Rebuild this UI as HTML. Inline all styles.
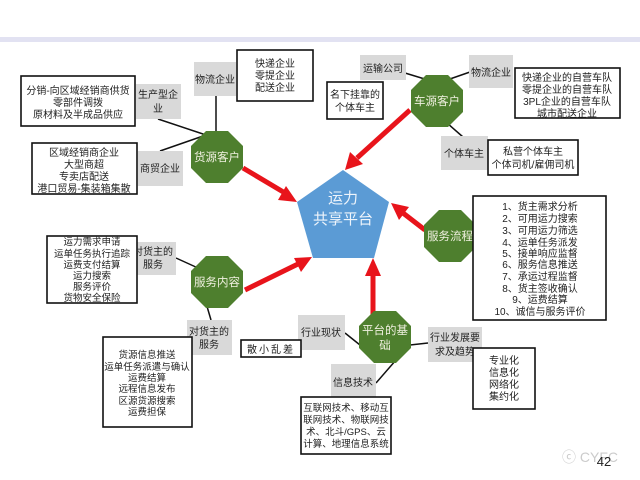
<!DOCTYPE html>
<html><head><meta charset="utf-8"><style>
body{margin:0;background:#fff}
svg{display:block}
text{font-family:"Liberation Sans","Noto Sans CJK SC",sans-serif;font-size:10px;fill:#222;text-anchor:middle}
.s{font-size:9.5px}
.g{fill:#d9d9d9}
.b{fill:#fff;stroke:#111;stroke-width:1.6}
.o{fill:#4e7f2e}
.ot{fill:#f0f0e0;font-size:11.5px}
.l{stroke:#111;stroke-width:1.5}
.a{stroke:#e8141b;stroke-width:5}
.h{fill:#e8141b}
</style></head><body>
<svg width="640" height="480" viewBox="0 0 640 480">
<rect x="0" y="37" width="640" height="5" fill="#e2e2f2"/>
<line class="l" x1="158" y1="119" x2="206" y2="135"/>
<line class="l" x1="160" y1="151" x2="206" y2="135"/>
<line class="l" x1="216" y1="95" x2="216" y2="135"/>
<line class="l" x1="405" y1="73" x2="428" y2="80"/>
<line class="l" x1="470" y1="72" x2="447" y2="80"/>
<line class="l" x1="447" y1="123" x2="463" y2="137"/>
<line class="l" x1="176" y1="258" x2="198" y2="268"/>
<line class="l" x1="206" y1="303" x2="211" y2="320"/>
<line class="l" x1="345" y1="333" x2="360" y2="345"/>
<line class="l" x1="410" y1="345" x2="428" y2="343"/>
<line class="l" x1="376" y1="383" x2="396" y2="360"/>
<polygon points="343,170 389,202 374,258 313,258 297,202" fill="#5b9bd5"/>
<text x="343" y="203" style="font-size:15px;fill:#eef4fb">运力</text>
<text x="343" y="224" style="font-size:15px;fill:#eef4fb">共享平台</text>
<line class="a" x1="243" y1="168" x2="285" y2="193"/>
<polygon class="h" points="297,202 278,200 286,186"/>
<line class="a" x1="410" y1="110" x2="357" y2="158"/>
<polygon class="h" points="345,170 350,152 363,164"/>
<line class="a" x1="425" y1="230" x2="403" y2="213"/>
<polygon class="h" points="391,203 409,207 399,220"/>
<line class="a" x1="245" y1="290" x2="298" y2="264"/>
<polygon class="h" points="312,257 301,272 294,258"/>
<line class="a" x1="373" y1="318" x2="373" y2="275"/>
<polygon class="h" points="373,258 381,276 365,276"/>
<g class="o">
<polygon transform="translate(217,157)" points="26,11 11,26 -11,26 -26,11 -26,-11 -11,-26 11,-26 26,-11"/>
<polygon transform="translate(437,101)" points="26,11 11,26 -11,26 -26,11 -26,-11 -11,-26 11,-26 26,-11"/>
<polygon transform="translate(450,236)" points="26,11 11,26 -11,26 -26,11 -26,-11 -11,-26 11,-26 26,-11"/>
<polygon transform="translate(217,282)" points="26,11 11,26 -11,26 -26,11 -26,-11 -11,-26 11,-26 26,-11"/>
<polygon transform="translate(385,337)" points="26,11 11,26 -11,26 -26,11 -26,-11 -11,-26 11,-26 26,-11"/>
</g>
<text class="ot" x="217" y="161">货源客户</text>
<text class="ot" x="437" y="105">车源客户</text>
<text class="ot" x="450" y="240">服务流程</text>
<text class="ot" x="217" y="286">服务内容</text>
<text class="ot" x="385" y="334">平台的基</text>
<text class="ot" x="385" y="349">础</text>
<rect class="g" x="136" y="84" width="45" height="35"/><text x="158" y="98">生产型企</text><text x="158" y="112">业</text>
<rect class="g" x="194" y="62" width="42" height="34"/><text x="215" y="83">物流企业</text>
<rect class="g" x="138" y="151" width="45" height="35"/><text x="160" y="172">商贸企业</text>
<rect class="g" x="360" y="55" width="46" height="25"/><text x="383" y="72">运输公司</text>
<rect class="g" x="469" y="55" width="44" height="33"/><text x="491" y="76">物流企业</text>
<rect class="g" x="441" y="136" width="47" height="34"/><text x="464" y="157">个体车主</text>
<rect class="g" x="131" y="242" width="45" height="33"/><text x="153" y="255">对货主的</text><text x="153" y="268">服务</text>
<rect class="g" x="187" y="320" width="45" height="35"/><text x="209" y="335">对货主的</text><text x="209" y="348">服务</text>
<rect class="g" x="298" y="315" width="47" height="35"/><text x="321" y="336">行业现状</text>
<rect class="g" x="428" y="327" width="54" height="35"/><text x="455" y="341">行业发展要</text><text x="455" y="355">求及趋势</text>
<rect class="g" x="331" y="364" width="45" height="36"/><text x="353" y="386">信息技术</text>
<rect class="b" x="237" y="50" width="76" height="51"/>
<text x="275" y="67">快递企业</text><text x="275" y="79">零提企业</text><text x="275" y="91">配送企业</text>
<rect class="b" x="21" y="76" width="114" height="50"/>
<text x="78" y="94">分销-向区域经销商供货</text><text x="78" y="106">零部件调拨</text><text x="78" y="118">原材料及半成品供应</text>
<rect class="b" x="32" y="143" width="105" height="51"/>
<text x="84" y="156">区域经销商企业</text><text x="84" y="168">大型商超</text><text x="84" y="180">专卖店配送</text><text x="84" y="192">港口贸易-集装箱集散</text>
<rect class="b" x="327" y="82" width="56" height="37"/>
<text x="355" y="98">名下挂靠的</text><text x="355" y="111">个体车主</text>
<rect class="b" x="515" y="68" width="105" height="50"/>
<text x="567" y="81">快递企业的自营车队</text><text x="567" y="93">零提企业的自营车队</text><text x="567" y="105">3PL企业的自营车队</text><text x="567" y="117">城市配送企业</text>
<rect class="b" x="488" y="140" width="90" height="35"/>
<text x="533" y="155">私营个体车主</text><text x="533" y="168">个体司机/雇佣司机</text>
<rect class="b" x="473" y="196" width="133" height="124"/>
<g><text x="540" y="210">1、货主需求分析</text><text x="540" y="222">2、可用运力搜索</text><text x="540" y="234">3、可用运力筛选</text><text x="540" y="246">4、运单任务派发</text><text x="540" y="257">5、接单响应监督</text><text x="540" y="268">6、服务信息推送</text><text x="540" y="280">7、承运过程监督</text><text x="540" y="292">8、货主签收确认</text><text x="540" y="303">9、运费结算</text><text x="540" y="315">10、诚信与服务评价</text></g>
<rect class="b" x="47" y="236" width="90" height="67"/>
<text class="s" x="92" y="245">运力需求申请</text><text class="s" x="92" y="257">运单任务执行追踪</text><text class="s" x="92" y="268">运费支付结算</text><text class="s" x="92" y="279">运力搜索</text><text class="s" x="92" y="290">服务评价</text><text class="s" x="92" y="301">货物安全保险</text>
<rect class="b" x="103" y="337" width="89" height="90"/>
<text class="s" x="147" y="358">货源信息推送</text><text class="s" x="147" y="370">运单任务派遣与确认</text><text class="s" x="147" y="381">运费结算</text><text class="s" x="147" y="392">远程信息发布</text><text class="s" x="147" y="404">区源货源搜索</text><text class="s" x="147" y="415">运费担保</text>
<rect class="b" x="241" y="340" width="60" height="17"/>
<text x="271" y="353" style="letter-spacing:2px">散小乱差</text>
<rect class="b" x="473" y="348" width="62" height="61"/>
<text x="504" y="364">专业化</text><text x="504" y="376">信息化</text><text x="504" y="388">网络化</text><text x="504" y="400">集约化</text>
<rect class="b" x="301" y="397" width="90" height="57"/>
<text class="s" x="346" y="411">互联网技术、移动互</text><text class="s" x="346" y="423">联网技术、物联网技</text><text class="s" x="346" y="435">术、北斗/GPS、云</text><text class="s" x="346" y="447">计算、地理信息系统</text>
<text x="590" y="462" style="font-size:14px;fill:#ccc">ⓒ CYFC</text>
<text x="604" y="466" style="font-size:13px;fill:#222">42</text>
</svg>
</body></html>
